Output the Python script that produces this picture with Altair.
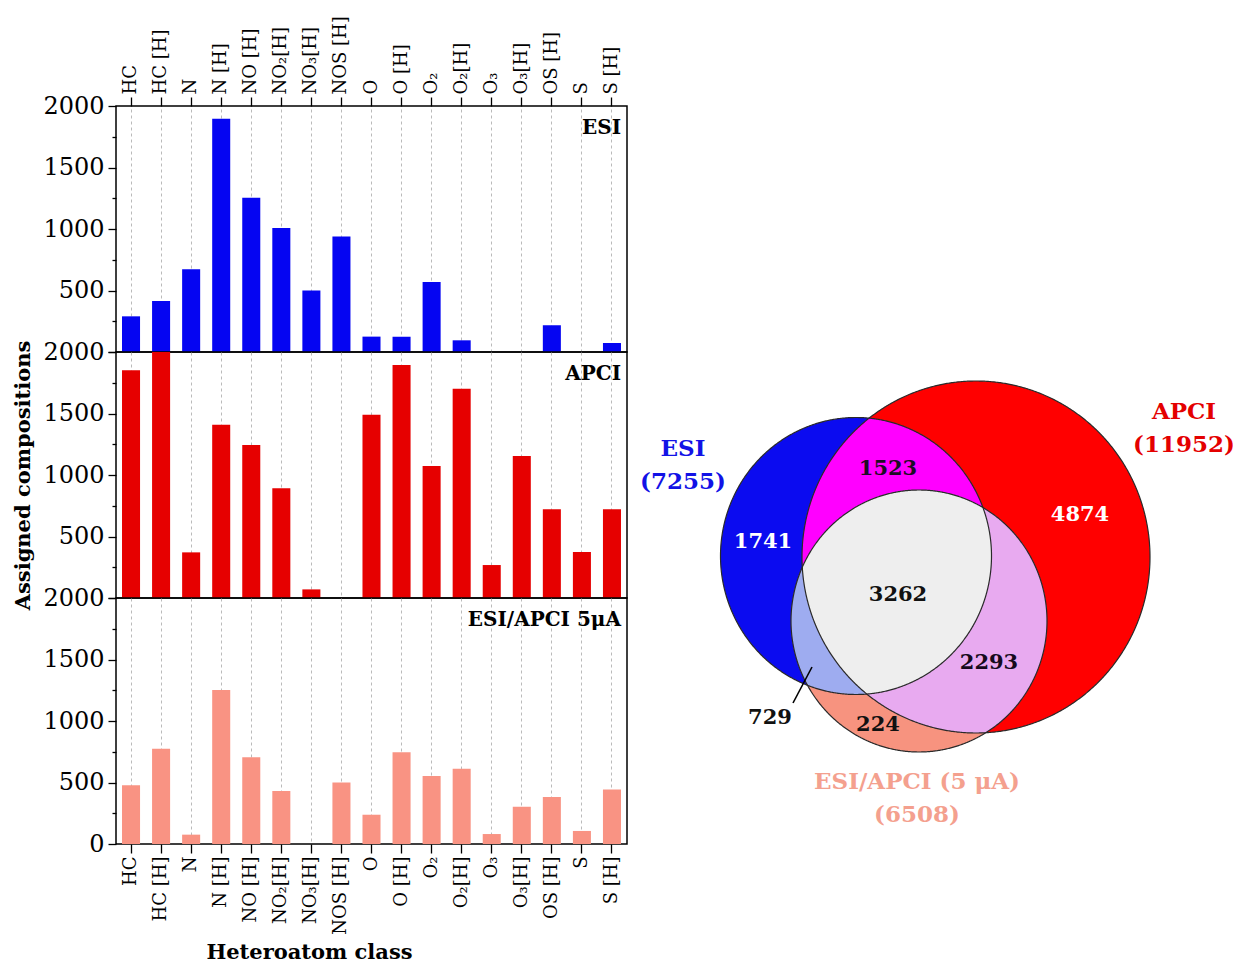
import numpy as np
import pandas as pd
import altair as alt

# ---------------- data ----------------
classes = ["HC", "HC [H]", "N", "N [H]", "NO [H]", "NO₂[H]", "NO₃[H]", "NOS [H]",
           "O", "O [H]", "O₂", "O₂[H]", "O₃", "O₃[H]", "OS [H]", "S", "S [H]"]
esi_counts = [290, 415, 672, 1897, 1255, 1008, 501, 940, 125, 125, 569, 95, 0, 0, 217, 0, 73]
apci_counts = [1851, 2000, 371, 1409, 1244, 892, 70, 0, 1490, 1894, 1073, 1702, 268, 1154, 721, 374, 721]
mixed_counts = [477, 775, 76, 1252, 705, 431, 0, 501, 238, 745, 553, 612, 81, 303, 382, 106, 444]
y_tick_values = [0, 250, 500, 750, 1000, 1250, 1500, 1750, 2000]

venn_set_names = ["ESI", "APCI", "ESI/APCI (5 μA)"]
venn_set_totals = [7255, 11952, 6508]
venn_region_names = ["ESI only", "ESI+APCI", "APCI only", "all three", "ESI+mixed", "APCI+mixed", "mixed only"]
venn_region_counts = [1741, 1523, 4874, 3262, 729, 2293, 224]

# ---------------- layout / style ----------------
SERIF = "DejaVu Serif"
W, H = 511, 246
BLUE_BAR, RED_BAR, SALMON_BAR = "#0505f2", "#e60000", "#f99383"

# venn geometry in page pixels (cx, cy, rx, ry)
E_GEOM = (856, 556, 135.5, 138.5)
A_GEOM = (976, 557, 174, 176)
M_GEOM = (919, 621, 128, 131)
VX, VY = 639, 106         # page position of the venn view origin
VW, VH = 594, 738

set_label_pos = [((683, 449), (683, 482)), ((1184, 412), (1184, 445)), ((917, 782), (917, 815))]
set_label_col = ["#1212e6", "#e40000", "#f4a08e"]
region_pos = [(763, 542), (888, 469), (1080, 515), (898, 595), (770, 718), (989, 663), (878, 725)]
region_col = ["white", "#1c0c24", "white", "#111111", "#111111", "#160a1c", "#111111"]
pointer_seg = [(793, 703), (812, 667)]


def x_axis(position):
    common = dict(grid=True, gridDash=[3, 3], gridColor="#a8a8a8", gridWidth=0.8,
                  bandPosition=0.5, domain=False)
    if position == "top":
        return alt.Axis(orient="top", labelAngle=270, labelAlign="left", labelBaseline="middle",
                        labelFont=SERIF, labelFontSize=18, labelColor="black", labelPadding=3,
                        labelOverlap=False, ticks=True, tickSize=9, tickColor="black", tickWidth=1.3,
                        title=None, **common)
    if position == "bottom":
        return alt.Axis(orient="bottom", labelAngle=270, labelAlign="right", labelBaseline="middle",
                        labelFont=SERIF, labelFontSize=18, labelColor="black", labelPadding=3,
                        labelOverlap=False, ticks=True, tickSize=9, tickColor="black", tickWidth=1.3,
                        title="Heteroatom class", titleFont=SERIF, titleFontSize=21,
                        titleFontWeight="bold", titleColor="black", titleX=193, titleY=97,
                        titleAlign="center", titleBaseline="top", **common)
    return alt.Axis(labels=False, ticks=False, title=None, **common)


def y_axis(show_zero, show_title):
    test = "datum.value % 500 === 0" + ("" if show_zero else " && datum.value > 0")
    return alt.Axis(values=y_tick_values, format="d", labelExpr=f"({test}) ? datum.label : ''",
                    labelFont=SERIF, labelFontSize=24, labelColor="black", labelPadding=4,
                    labelOverlap=False, domain=False, grid=False,
                    tickSize={"condition": {"test": "datum.value % 500 === 0", "value": 8}, "value": 4},
                    tickColor="black", tickWidth=1.3,
                    title="Assigned compositions", titleFont=SERIF, titleFontSize=21,
                    titleFontWeight="bold", titleColor="black" if show_title else "transparent",
                    titlePadding=9)


def panel(counts, color, label, position):
    df = pd.DataFrame({"cls": classes, "n": counts})
    bars = alt.Chart(df).mark_bar(color=color, clip=True).encode(
        x=alt.X("cls:N", sort=classes,
                scale=alt.Scale(paddingInner=0.4, paddingOuter=0.2), axis=x_axis(position)),
        y=alt.Y("n:Q", scale=alt.Scale(domain=[0, 2000]),
                axis=y_axis(position == "bottom", position == "middle")),
    )
    txt = alt.Chart(pd.DataFrame({"t": [label]})).mark_text(
        font=SERIF, fontSize=20, fontWeight="bold", align="right", baseline="middle", color="black"
    ).encode(text="t:N", x=alt.value(W - 6), y=alt.value(22))
    return alt.layer(bars, txt).properties(width=W, height=H)


left = alt.vconcat(
    panel(esi_counts, BLUE_BAR, "ESI", "top"),
    panel(apci_counts, RED_BAR, "APCI", "middle"),
    panel(mixed_counts, SALMON_BAR, "ESI/APCI 5μA", "bottom"),
    spacing=0, bounds="flush",
)

# ---------------- venn ----------------
def ellipse_pts(cx, cy, rx, ry, n=900):
    t = np.linspace(0, 2 * np.pi, n, endpoint=False)
    return np.column_stack([cx + rx * np.cos(t), cy + ry * np.sin(t)])


def inside(p, e):
    cx, cy, rx, ry = e
    return ((p[:, 0] - cx) / rx) ** 2 + ((p[:, 1] - cy) / ry) ** 2 <= 1.0


def intersection(*es):
    parts = []
    for i, e in enumerate(es):
        p = ellipse_pts(*e)
        m = np.ones(len(p), dtype=bool)
        for j, f in enumerate(es):
            if j != i:
                m &= inside(p, f)
        parts.append(p[m])
    P = np.vstack(parts)
    c = P.mean(axis=0)
    return P[np.argsort(np.arctan2(P[:, 1] - c[1], P[:, 0] - c[0]))]


def poly_feature(ring, fill):
    coords = [[float(x), float(y)] for x, y in ring]
    coords.append(coords[0])
    return {"type": "Feature", "geometry": {"type": "Polygon", "coordinates": [coords]},
            "properties": {"fill": fill}}


region_features = [
    poly_feature(ellipse_pts(*E_GEOM), "#0b0bf0"),
    poly_feature(ellipse_pts(*A_GEOM), "#ff0000"),
    poly_feature(intersection(E_GEOM, A_GEOM), "#ff00ff"),
    poly_feature(ellipse_pts(*M_GEOM), "#f7937f"),
    poly_feature(intersection(E_GEOM, M_GEOM), "#9eacf0"),
    poly_feature(intersection(A_GEOM, M_GEOM), "#e8aaf0"),
    poly_feature(intersection(E_GEOM, A_GEOM, M_GEOM), "#eeeeee"),
]
outline_features = [poly_feature(ellipse_pts(*g), "none") for g in (E_GEOM, A_GEOM, M_GEOM)]
pointer_feature = [{"type": "Feature",
                    "geometry": {"type": "LineString",
                                 "coordinates": [[float(x), float(y)] for x, y in pointer_seg]},
                    "properties": {}}]

proj = dict(type="identity", scale=1, translate=[-VX, -VY])

fills = alt.Chart(alt.Data(values=region_features)).mark_geoshape(strokeWidth=0).encode(
    fill=alt.Fill("properties.fill:N", scale=None)).project(**proj)
outlines = alt.Chart(alt.Data(values=outline_features)).mark_geoshape(
    fill="transparent", stroke="#2a2a2a", strokeWidth=1.2).project(**proj)
pointer = alt.Chart(alt.Data(values=pointer_feature)).mark_geoshape(
    fill="transparent", stroke="black", strokeWidth=1.6).project(**proj)

rows = []
for name, total, (p1, p2), col in zip(venn_set_names, venn_set_totals, set_label_pos, set_label_col):
    rows.append({"label": name, "x": p1[0], "y": p1[1], "c": col, "s": 23})
    rows.append({"label": f"({total})", "x": p2[0], "y": p2[1], "c": col, "s": 23})
for cnt, p, col in zip(venn_region_counts, region_pos, region_col):
    rows.append({"label": str(cnt), "x": p[0], "y": p[1], "c": col, "s": 21})
venn_text_df = pd.DataFrame(rows)

texts = alt.Chart(venn_text_df).mark_text(
    font=SERIF, fontWeight="bold", align="center", baseline="middle"
).encode(
    longitude="x:Q", latitude="y:Q", text="label:N",
    color=alt.Color("c:N", scale=None), size=alt.Size("s:Q", scale=None),
).project(**proj)

venn = alt.layer(fills, outlines, pointer, texts).properties(
    width=VW, height=VH, view=alt.ViewBackground(stroke="transparent"))

chart = alt.hconcat(left, venn, spacing=10).properties(
    padding={"left": 4, "top": 6, "right": 0, "bottom": 0},
    background="white",
).configure_view(stroke="black", strokeWidth=1.5)

chart.save("out.html", embed_options={"renderer": "svg", "actions": False})
